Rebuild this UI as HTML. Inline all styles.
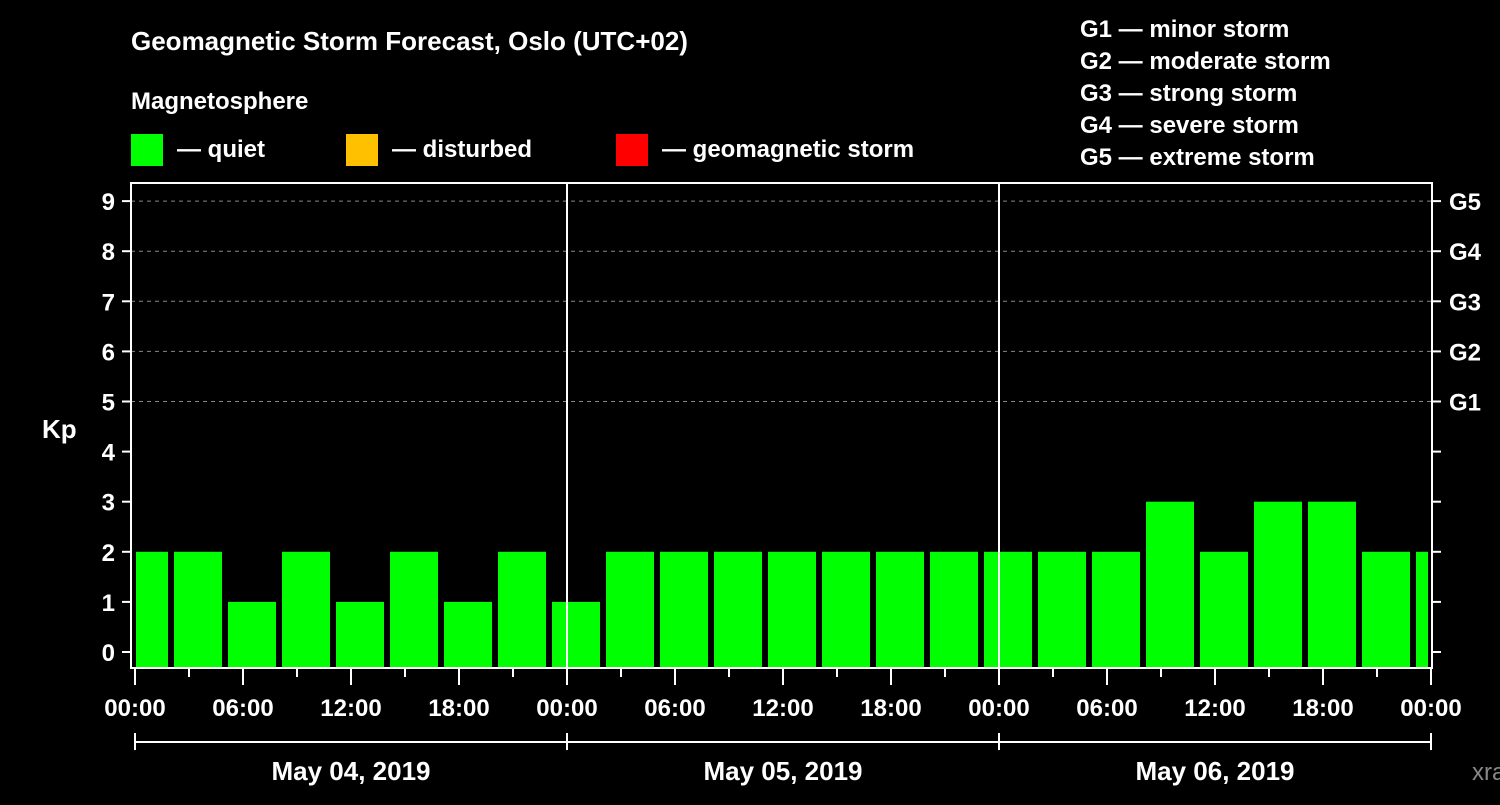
<!DOCTYPE html>
<html><head><meta charset="utf-8"><style>
body{margin:0;background:#000;width:1500px;height:800px;overflow:hidden}
svg text{font-family:"Liberation Sans",sans-serif;font-weight:bold;fill:#fff}
</style></head><body>
<svg id="c" width="1500" height="800">
<rect width="1500" height="800" fill="#000"/>
<text x="131" y="50" font-size="26">Geomagnetic Storm Forecast, Oslo (UTC+02)</text>
<text x="131" y="109" font-size="24">Magnetosphere</text>
<g><rect x="131" y="134" width="32" height="32" fill="#00ff00"/><text x="177" y="157" font-size="24">— quiet</text></g>
<g><rect x="346" y="134" width="32" height="32" fill="#ffc000"/><text x="392" y="157" font-size="24">— disturbed</text></g>
<g><rect x="616" y="134" width="32" height="32" fill="#ff0000"/><text x="662" y="157" font-size="24">— geomagnetic storm</text></g>
<g font-size="24">
<text x="1080" y="37">G1 — minor storm</text><text x="1080" y="69">G2 — moderate storm</text><text x="1080" y="101">G3 — strong storm</text><text x="1080" y="133">G4 — severe storm</text><text x="1080" y="165">G5 — extreme storm</text></g>
<text x="42" y="438" font-size="26">Kp</text>
<text x="1472" y="780" font-size="24" fill="#888" style="fill:#888;font-weight:normal">xras.ru</text>
<defs><clipPath id="pc"><rect x="136" y="183" width="1292" height="485"/></clipPath></defs>
<g id="grid"></g><g id="bars" clip-path="url(#pc)"></g><g id="axes"></g>
</svg>
<script>
const kpValues=[2,2,1,2,1,2,1,2,1,2,2,2,2,2,2,2,2,2,2,3,2,3,3,2,2];
const yTicks=[0,1,2,3,4,5,6,7,8,9];
const gLabels=["G1","G2","G3","G4","G5"];
const xTickLabels=["00:00","06:00","12:00","18:00","00:00","06:00","12:00","18:00","00:00","06:00","12:00","18:00","00:00"];
const dayLabels=["May 04, 2019","May 05, 2019","May 06, 2019"];
const NS="http://www.w3.org/2000/svg";
const y=v=>652-v*50.1, x=h=>135+h*18;
function mk(p,t,a){const e=document.createElementNS(NS,t);for(const k in a)e.setAttribute(k,a[k]);document.getElementById(p).appendChild(e);return e;}
yTicks.forEach(v=>{if(v>=5){const l=mk('grid','line',{x1:131,x2:1432,y1:y(v),y2:y(v),stroke:'#888','stroke-dasharray':'4,4'});

}
mk('axes','line',{x1:122,x2:131,y1:y(v),y2:y(v),stroke:'#fff','stroke-width':2});
mk('axes','line',{x1:1432,x2:1441,y1:y(v),y2:y(v),stroke:'#fff','stroke-width':2});
const t=mk('axes','text',{x:115,y:y(v)+9,'font-size':24,'text-anchor':'end'});t.textContent=v;

});
gLabels.forEach((g,i)=>{const t=mk('axes','text',{x:1449,y:y(5+i)+9,'font-size':24});t.textContent=g;

});
kpValues.forEach((v,i)=>{const b=mk('bars','rect',{x:x(i*3)-15,y:y(v),width:48,height:668-y(v),fill:v>=5?'#ff0000':(v>=4?'#ffc000':'#00ff00')});

});
mk('axes','rect',{x:131,y:183,width:1301,height:485,fill:'none',stroke:'#fff','stroke-width':2});
[1,2].forEach(d=>mk('axes','line',{x1:x(d*24),x2:x(d*24),y1:183,y2:668,stroke:'#fff','stroke-width':2}));
for(let h=0;h<=72;h+=3){mk('axes','line',{x1:x(h),x2:x(h),y1:668,y2:h%6?677:685,stroke:'#fff','stroke-width':2});}
xTickLabels.forEach((s,i)=>{const t=mk('axes','text',{x:x(i*6),y:716,'font-size':24,'text-anchor':'middle'});t.textContent=s;

});
mk('axes','line',{x1:x(0),x2:x(72),y1:742,y2:742,stroke:'#fff','stroke-width':2});
for(let d=0;d<=3;d++)mk('axes','line',{x1:x(d*24),x2:x(d*24),y1:733,y2:750,stroke:'#fff','stroke-width':2});
dayLabels.forEach((s,i)=>{const t=mk('axes','text',{x:x(i*24+12),y:780,'font-size':26,'text-anchor':'middle'});t.textContent=s;

});
</script>
</body></html>
